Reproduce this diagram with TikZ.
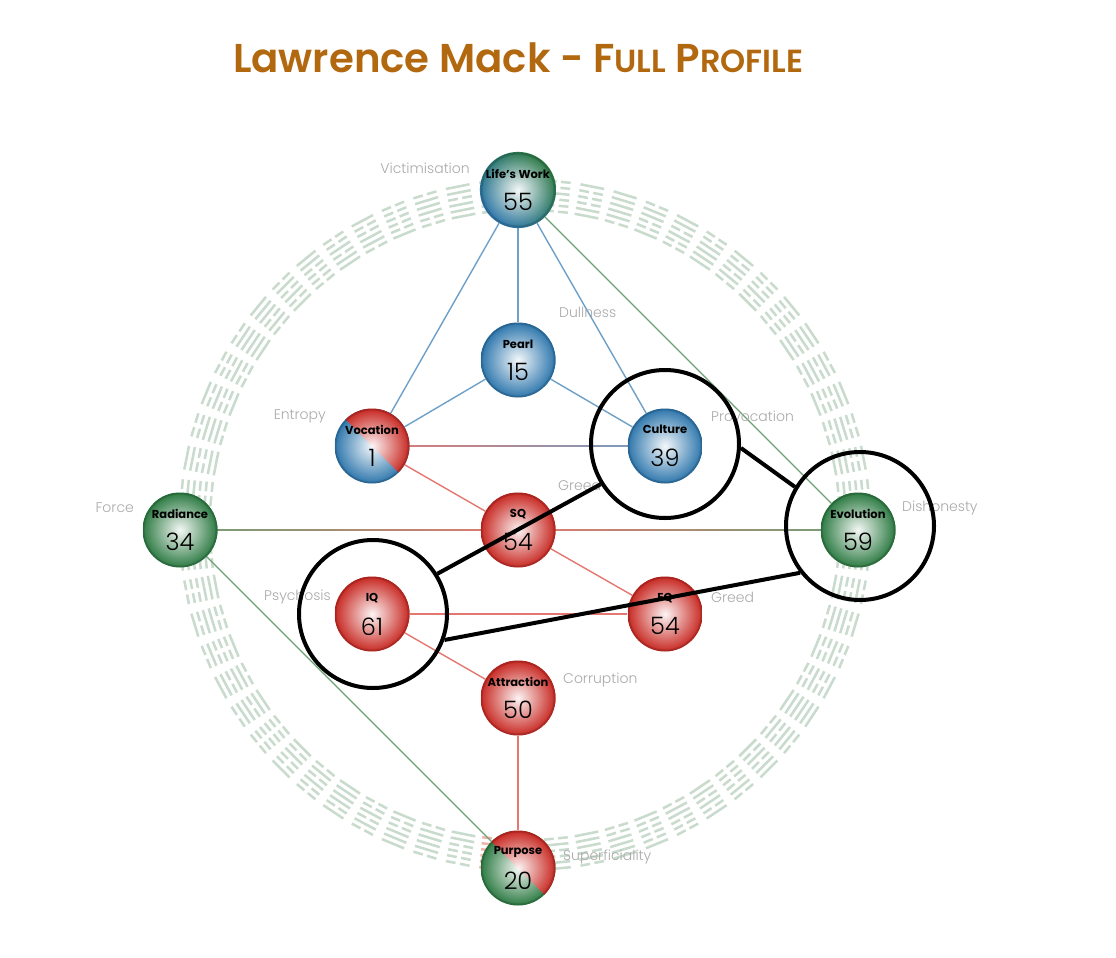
\documentclass[tikz,border=0pt]{standalone}
\usepackage{fontspec}
\setmainfont{Poppins}
\newfontfamily\lightf{Poppins Light}
\newfontfamily\medf{Poppins SemiBold}
\usetikzlibrary{fadings}
\definecolor{hexc}{RGB}{200,219,205}
\definecolor{hexr}{RGB}{240,180,172}
\definecolor{bluec}{RGB}{45,118,172}
\definecolor{greenc}{RGB}{44,122,66}
\definecolor{redc}{RGB}{200,40,34}
\definecolor{bedge}{RGB}{110,160,200}
\definecolor{gedge}{RGB}{110,160,118}
\definecolor{redge}{RGB}{228,120,112}
\definecolor{lblc}{RGB}{170,170,170}
\definecolor{titlec}{RGB}{178,104,14}
\tikzfading[name=glow, inner color=transparent!5, outer color=transparent!100]
\pgfdeclarelayer{bg}
\pgfsetlayers{bg,main}
\newcommand\balltxt[2]{{\fontsize{11.5}{12}\selectfont\bfseries #1}\\[14pt]{\lightf\fontsize{24}{25}\selectfont #2}}
\tikzset{
  ball/.style n args={2}{circle, minimum size=75pt, inner sep=0pt, align=center,
    path picture={
      \fill[#1] (path picture bounding box.south west) rectangle (path picture bounding box.north east);
      \fill[#2] (path picture bounding box.north west) -- (path picture bounding box.north east) -- (path picture bounding box.south east) -- cycle;
      \fill[white, path fading=glow] (path picture bounding box.center) circle (37.5pt);
      \draw[black, opacity=0.14, line width=2pt] (path picture bounding box.center) circle (36.5pt);
    }},
  ballsm/.style n args={2}{circle, minimum size=75pt, inner sep=0pt, align=center,
    path picture={
      \shade[left color=#1, right color=#2, shading angle=-45] (path picture bounding box.south west) rectangle (path picture bounding box.north east);
      \fill[white, path fading=glow] (path picture bounding box.center) circle (37.5pt);
      \draw[black, opacity=0.14, line width=2pt] (path picture bounding box.center) circle (36.5pt);
    }},
  hexline/.style={line width=2.5pt, line cap=butt},
  bline/.style={draw=bedge, line width=1.4pt},
  gline/.style={draw=gedge, line width=1.4pt},
  rline/.style={draw=redge, line width=1.4pt},
  lbl/.style={font={\lightf\fontsize{14}{16}\selectfont}, text=lblc, inner sep=0pt},
  ann/.style={circle, draw=black, line width=4pt, minimum size=148pt, inner sep=0pt},
  annl/.style={draw=black, line width=4pt},
}
\begin{document}
\begin{tikzpicture}[x=1pt,y=-1pt]
\useasboundingbox (0,0) rectangle (1116,958);

% title
\node[anchor=base west, inner sep=0pt, text=titlec] (title) at (233,72)
  {\resizebox{570pt}{!}{\medf\fontsize{34}{40}\selectfont Lawrence Mack - F{\fontsize{27}{30}\selectfont ULL} P{\fontsize{27}{30}\selectfont ROFILE}}};

% nodes
\node[ballsm={greenc}{bluec}] (lw) at (518,190) {\balltxt{Life's Work}{55}};
\node[ball={bluec}{bluec}] (pearl) at (518,360) {\balltxt{Pearl}{15}};
\node[ball={bluec}{redc}] (voc) at (372,446) {\balltxt{Vocation}{1}};
\node[ball={bluec}{bluec}] (cult) at (665,446) {\balltxt{Culture}{39}};
\node[ball={greenc}{greenc}] (rad) at (180,530) {\balltxt{Radiance}{34}};
\node[ball={redc}{redc}] (sq) at (518,530) {\balltxt{SQ}{54}};
\node[ball={greenc}{greenc}] (evo) at (858,530) {\balltxt{Evolution}{59}};
\node[ball={redc}{redc}] (iq) at (372,614) {\balltxt{IQ}{61}};
\node[ball={redc}{redc}] (eq) at (665,614) {\balltxt{EQ}{54}};
\node[ball={redc}{redc}] (att) at (518,698) {\balltxt{Attraction}{50}};
\node[ball={greenc}{redc}] (pur) at (518,868) {\balltxt{Purpose}{20}};

\begin{pgfonlayer}{bg}
\fill[white] (0,0) rectangle (1116,958);
% hexagram ring
\foreach \k in {0,...,63}{
  \pgfmathtruncatemacro{\n}{mod(\k*37+13,64)}
  \ifnum\k=63 \def\hc{hexr}\else\def\hc{hexc}\fi
  \begin{scope}[shift={(525,525)}, rotate=\k*5.625]
    \foreach \j in {0,...,5}{
      \pgfmathtruncatemacro{\b}{mod(floor(\n/(2^\j)),2)}
      \pgfmathsetmacro{\r}{315+\j*6}
      \ifnum\b=1
        \draw[hexline, draw=\hc] (-12,\r) -- (12,\r);
      \else
        \draw[hexline, draw=\hc] (-12,\r) -- (-2.2,\r) (2.2,\r) -- (12,\r);
      \fi
    }
  \end{scope}
}
% connectors
\draw[bline] (lw) -- (voc);
\draw[bline] (lw) -- (pearl);
\draw[bline] (lw) -- (cult);
\draw[bline] (pearl) -- (voc);
\draw[bline] (pearl) -- (cult);
\shade[left color=redge, middle color=bedge, right color=bedge] ([yshift=-0.7pt]voc.center) rectangle ([yshift=0.7pt]cult.center);
\draw[gline] (lw) -- (evo);
\draw[gline] (rad) -- (pur);
\shade[left color=gedge, right color=redge] ([yshift=-0.7pt]rad.center) rectangle ([yshift=0.7pt]sq.center);
\shade[left color=redge, middle color=gedge!60!bedge, right color=gedge] ([yshift=-0.7pt]sq.center) rectangle ([yshift=0.7pt]evo.center);
\draw[rline] (voc) -- (sq);
\draw[rline] (sq) -- (eq);
\draw[rline] (iq) -- (eq);
\draw[rline] (iq) -- (att);
\draw[rline] (att) -- (pur);
\end{pgfonlayer}

% labels
\node[lbl, anchor=east] (l1) at (470,168) {Victimisation};
\node[lbl, anchor=west] (l2) at (559,312) {Dullness};
\node[lbl, anchor=east] (l3) at (326,416) {Entropy};
\node[lbl, anchor=west] (l4) at (711,416) {Provocation};
\node[lbl, anchor=east] (l5) at (134,508) {Force};
\node[lbl, anchor=west] (l6) at (558,485) {Greed};
\node[lbl, anchor=west] (l7) at (902,508) {Dishonesty};
\node[lbl, anchor=east] (l8) at (331,597) {Psychosis};
\node[lbl, anchor=west] (l9) at (711,597) {Greed};
\node[lbl, anchor=west] (l10) at (563,680) {Corruption};
\node[lbl, anchor=west] (l11) at (563,857) {Superficiality};

% annotations
\node[ann] (ccu) at (665,444) {};
\node[ann] (civ) at (373,614) {};
\node[ann] (cev) at (860,526) {};
\draw[annl] (civ.32) -- (ccu.212);
\draw[annl] (ccu.-3) -- (cev.149);
\draw[annl] (civ.-20) -- (cev.218);
\end{tikzpicture}
\end{document}
